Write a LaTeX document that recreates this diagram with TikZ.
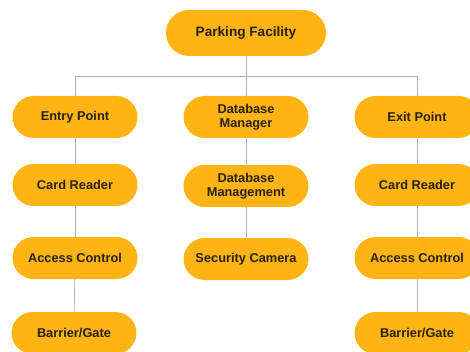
\documentclass[tikz,border=0pt]{standalone}
\usepackage{fontspec}
\setmainfont{Liberation Sans}
\definecolor{boxfill}{HTML}{FDB414}
\definecolor{boxtext}{HTML}{2A2010}
\definecolor{linkc}{HTML}{ABABD6}
\begin{document}
\begin{tikzpicture}[x=1pt,y=-1pt,
  box/.style={fill=boxfill,draw=none,rounded corners=21pt,minimum width=125pt,minimum height=42pt,
    inner sep=0pt,align=center,text=boxtext,font=\fontsize{12.8}{13.8}\selectfont\bfseries},
  link/.style={draw=linkc,line width=0.7pt}]
\useasboundingbox (0,0) rectangle (470,352);
\node[box,minimum width=160pt,minimum height=46pt,rounded corners=23pt,font=\fontsize{13.6}{15}\selectfont\bfseries] (pf) at (246,33) {Parking Facility};
% left column
\node[box] (entry) at (75,117) {Entry Point};
\node[box] (lcard) at (75,185) {Card Reader};
\node[box] (lacc) at (75,258) {Access Control};
\node[box] (lbar) at (74,333) {Barrier/Gate};
% middle column
\node[box] (dbm) at (246,117) {Database\\Manager};
\node[box] (dbg) at (246,186) {Database\\Management};
\node[box] (cam) at (246,259) {Security Camera};
% right column
\node[box] (exit) at (417,117) {Exit Point};
\node[box] (rcard) at (417,185) {Card Reader};
\node[box] (racc) at (417,258) {Access Control};
\node[box] (rbar) at (417,333) {Barrier/Gate};
% connectors
\coordinate (bus) at (246,76);
\draw[link] (pf.south) -- (bus);
\draw[link] (bus) -| (entry.north);
\draw[link] (bus) -| (exit.north);
\draw[link] (bus) -- (dbm.north);
\draw[link] (entry) -- (lcard);
\draw[link] (lcard) -- (lacc);
\draw[link] (lacc) -- (lbar);
\draw[link] (dbm) -- (dbg);
\draw[link] (dbg) -- (cam);
\draw[link] (exit) -- (rcard);
\draw[link] (rcard) -- (racc);
\draw[link] (racc) -- (rbar);
\end{tikzpicture}
\end{document}
